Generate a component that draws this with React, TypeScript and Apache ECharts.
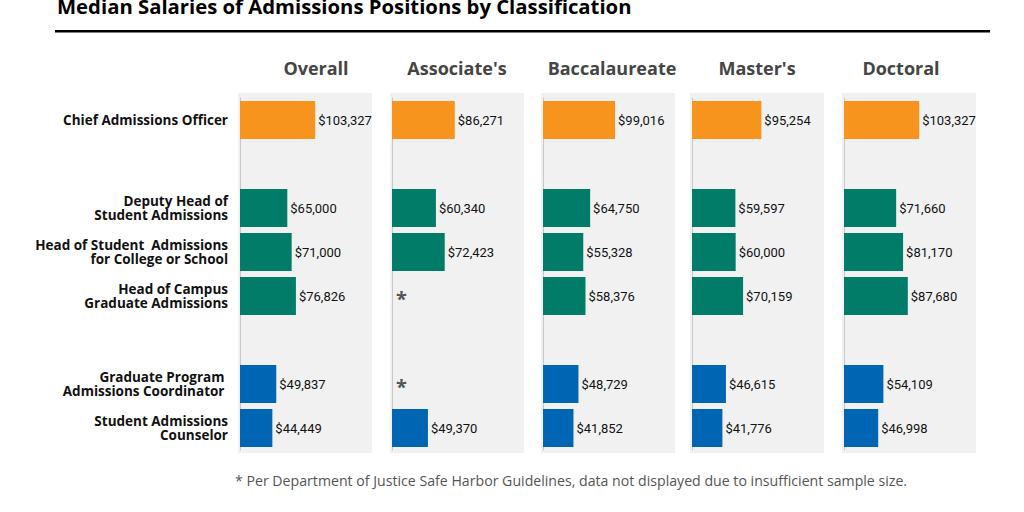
import { useEffect, useRef } from "react";
import * as echarts from "echarts";

const titleText = "Median Salaries of Admissions Positions by Classification";
const footnoteText =
  "* Per Department of Justice Safe Harbor Guidelines, data not displayed due to insufficient sample size.";

const categories = [
  "Chief Admissions Officer",
  " ",
  "Deputy Head of\nStudent Admissions",
  "Head of Student  Admissions\nfor College or School",
  "Head of Campus\nGraduate Admissions",
  "  ",
  "Graduate Program \nAdmissions Coordinator ",
  "Student Admissions\nCounselor",
];
const rowGroups = ["chief", "gap", "head", "head", "head", "gap", "staff", "staff"];

const classifications = ["Overall", "Associate's", "Baccalaureate", "Master's", "Doctoral"];

// "*" = suppressed (insufficient sample size), null = spacer row
const overall = [103327, null, 65000, 71000, 76826, null, 49837, 44449];
const associates = [86271, null, 60340, 72423, "*", null, "*", 49370];
const baccalaureate = [99016, null, 64750, 55328, 58376, null, 48729, 41852];
const masters = [95254, null, 59597, 60000, 70159, null, 46615, 41776];
const doctoral = [103327, null, 71660, 81170, 87680, null, 54109, 46998];
const seriesValues = [overall, associates, baccalaureate, masters, doctoral];

const groupColors: Record<string, string> = {
  chief: "#F7941D",
  head: "#007C68",
  staff: "#0066B3",
};

const gridLefts = [240, 392, 543, 692, 844];
const headerCenters = [316, 457, 612, 757, 901];
const GRID_W = 131;
const GRID_TOP = 98;
const GRID_H = 352;

const fmt = (v: number) => "$" + v.toLocaleString("en-US");

export default function App() {
  const ref = useRef<HTMLDivElement>(null);

  useEffect(() => {
    if (!ref.current) return;
    const chart = echarts.init(ref.current, undefined, { renderer: "svg" });

    const graphics: any[] = [];
    gridLefts.forEach((l) => {
      graphics.push({
        type: "rect",
        z: -10,
        shape: { x: l - 2, y: 93, width: 134, height: 360 },
        style: { fill: "#F1F1F1" },
        silent: true,
      });
    });
    graphics.push({
      type: "text",
      style: {
        x: 57,
        y: 6,
        text: titleText,
        font: 'bold 20.3px "Open Sans"',
        fill: "#000",
        verticalAlign: "middle",
      },
    });
    graphics.push({
      type: "rect",
      shape: { x: 55, y: 30, width: 935, height: 2.5 },
      style: { fill: "#000" },
    });
    classifications.forEach((c, i) => {
      graphics.push({
        type: "text",
        style: {
          x: headerCenters[i],
          y: 68,
          text: c,
          font: 'bold 18px "Open Sans"',
          fill: "#454545",
          align: "center",
          verticalAlign: "middle",
        },
      });
    });
    graphics.push({
      type: "text",
      style: {
        x: 235,
        y: 480,
        text: footnoteText,
        font: '14.15px "Open Sans"',
        fill: "#555",
        verticalAlign: "middle",
      },
    });

    const option: any = {
      animation: false,
      grid: gridLefts.map((l) => ({ left: l, top: GRID_TOP, width: GRID_W, height: GRID_H })),
      xAxis: gridLefts.map((_, i) => ({
        gridIndex: i,
        type: "value",
        min: 0,
        max: 180000,
        show: false,
      })),
      yAxis: gridLefts.map((_, i) => ({
        gridIndex: i,
        type: "category",
        data: categories,
        inverse: true,
        axisLine: { show: true, lineStyle: { color: "#c8c8c8", width: 1 } },
        axisTick: { show: false },
        splitLine: { show: false },
        axisLabel:
          i === 0
            ? {
                show: true,
                margin: 12,
                fontFamily: "Open Sans",
                fontWeight: "bold",
                fontSize: 13.5,
                lineHeight: 14,
                color: "#111",
                align: "right",
              }
            : { show: false },
      })),
      series: seriesValues.map((vals, i) => ({
        type: "bar",
        name: classifications[i],
        xAxisIndex: i,
        yAxisIndex: i,
        barWidth: 38,
        label: {
          show: true,
          position: "right",
          distance: 3,
          fontFamily: "Roboto",
          fontSize: 13,
          color: "#111",
          formatter: (p: any) => fmt(p.value),
        },
        data: vals.map((v: any, k: number) => {
          if (v === null) return "-";
          if (v === "*")
            return {
              value: 0,
              itemStyle: { color: "rgba(0,0,0,0)" },
              label: {
                show: true,
                formatter: "*",
                fontFamily: "Open Sans",
                fontWeight: "bold",
                fontSize: 20,
                color: "#555",
                distance: 4,
                offset: [0, 2],
              },
            };
          return { value: v, itemStyle: { color: groupColors[rowGroups[k]] } };
        }),
      })),
      graphic: graphics,
    };

    chart.setOption(option);
    return () => chart.dispose();
  }, []);

  return (
    <div
      ref={ref}
      style={{ position: "absolute", left: 0, top: 0, width: 1024, height: 512, background: "#fff" }}
    />
  );
}
